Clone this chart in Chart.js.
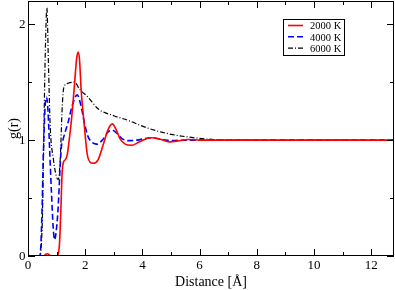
<!DOCTYPE html>
<html>
<head>
    <script src="https://cdn.jsdelivr.net/npm/chart.js@4.4.0/dist/chart.umd.min.js"></script>
    <style>
        body {
            margin: 0;
            background: #fff;
        }
        #wrap {
            width: 395px;
            height: 290px;
        }
    </style>
</head>
<body>
    <div id="wrap"><canvas id="gr" width="395" height="290"></canvas></div>

    <script>
        // values
        const xRed = [0, 0.55, 0.62, 0.68, 0.75, 0.82, 1.0, 1.06, 1.1, 1.15, 1.19, 1.23, 1.3, 1.37, 1.45, 1.51, 1.61, 1.7, 1.75, 1.8, 1.86, 1.96, 2.07, 2.17, 2.28, 2.45, 2.63, 2.8, 2.95, 3.1, 3.22, 3.4, 3.62, 3.9, 4.3, 4.6, 4.95, 5.3, 5.6, 6.0, 12.8];
        const yRed = [0, 0, 0.015, 0.02, 0.01, 0, 0, 0.02, 0.1, 0.4, 0.7, 0.8, 0.83, 0.87, 1.02, 1.15, 1.43, 1.7, 1.76, 1.7, 1.43, 1.15, 0.88, 0.81, 0.8, 0.83, 0.96, 1.09, 1.14, 1.08, 1.01, 0.965, 0.955, 0.985, 1.02, 1.01, 0.985, 0.995, 1.005, 1.0, 1.0];

        const xBlue = [0, 0.42, 0.48, 0.54, 0.6, 0.65, 0.7, 0.76, 0.82, 0.88, 0.93, 0.98, 1.05, 1.12, 1.17, 1.22, 1.3, 1.4, 1.55, 1.72, 1.85, 1.98, 2.1, 2.27, 2.4, 2.6, 2.8, 2.95, 3.1, 3.3, 3.5, 3.8, 4.3, 4.7, 5.0, 5.5, 12.8];
        const yBlue = [0, 0, 0.3, 0.9, 1.3, 1.37, 1.25, 0.9, 0.55, 0.25, 0.14, 0.2, 0.4, 0.75, 0.95, 1.0, 1.07, 1.15, 1.3, 1.39, 1.3, 1.14, 1.03, 0.975, 0.965, 1.0, 1.07, 1.085, 1.06, 1.01, 0.995, 1.0, 1.02, 1.005, 0.995, 1.0, 1.0];

        const xBlack = [0, 0.4, 0.5, 0.55, 0.6, 0.66, 0.72, 0.78, 0.88, 1.0, 1.06, 1.12, 1.2, 1.25, 1.4, 1.63, 1.8, 2.1, 2.45, 3.0, 3.5, 4.0, 4.5, 5.0, 5.5, 6.0, 6.5, 7.0, 12.8];
        const yBlack = [0, 0, 0.3, 1.0, 1.7, 2.14, 1.6, 1.1, 0.85, 0.68, 0.66, 0.8, 1.3, 1.45, 1.49, 1.5, 1.44, 1.37, 1.27, 1.21, 1.17, 1.12, 1.08, 1.05, 1.03, 1.015, 1.005, 1.0, 1.0];

        const seriesNames = ['2000 K', '4000 K', '6000 K'];
        const xTickLabels = [0, 2, 4, 6, 8, 10, 12];
        const yTickLabels = [0, 1, 2];
        const xTitle = 'Distance [\u00c5]';
        const yTitle = 'g(r)';

        function pts(xs, ys) {
            return xs.map((x, i) => ({ x: x, y: ys[i] }));
        }

        const serif = '"Liberation Serif", "DejaVu Serif", serif';

        const frame = {
            id: 'frame',
            afterDraw(c) {
                const ctx = c.ctx;
                const a = c.chartArea;
                const sx = c.scales.x;
                const sy = c.scales.y;
                ctx.save();
                ctx.strokeStyle = '#000';
                ctx.lineWidth = 1;
                ctx.strokeRect(a.left + 0.5, a.top + 0.5, a.right - a.left - 1, a.bottom - a.top - 1);

                // inward ticks
                ctx.beginPath();
                for (let v = 0; v <= 12; v++) {
                    const len = v % 2 === 0 ? 7 : 4;
                    const px = Math.round(sx.getPixelForValue(v)) + 0.5;
                    ctx.moveTo(px, a.bottom);
                    ctx.lineTo(px, a.bottom - len);
                    ctx.moveTo(px, a.top);
                    ctx.lineTo(px, a.top + len);
                }
                for (let v = 0; v <= 2; v += 0.5) {
                    const len = v % 1 === 0 ? 7 : 4;
                    const py = Math.round(sy.getPixelForValue(v)) + 0.5;
                    ctx.moveTo(a.left, py);
                    ctx.lineTo(a.left + len, py);
                    ctx.moveTo(a.right, py);
                    ctx.lineTo(a.right - len, py);
                }
                ctx.stroke();

                // tick labels
                ctx.fillStyle = '#000';
                ctx.font = '13px ' + serif;
                ctx.textAlign = 'center';
                ctx.textBaseline = 'alphabetic';
                xTickLabels.forEach(v => {
                    ctx.fillText(String(v), sx.getPixelForValue(v), 269);
                });
                ctx.textAlign = 'right';
                yTickLabels.forEach(v => {
                    ctx.fillText(String(v), 25.5, sy.getPixelForValue(v) + 4.3);
                });

                // axis titles
                ctx.font = '14px ' + serif;
                ctx.textAlign = 'center';
                ctx.fillText(xTitle, (a.left + a.right) / 2, 286);
                ctx.save();
                ctx.translate(14, (a.top + a.bottom) / 2);
                ctx.rotate(-Math.PI / 2);
                ctx.textBaseline = 'middle';
                ctx.fillText(yTitle, 0, 0);
                ctx.restore();

                // legend box
                ctx.fillStyle = '#fff';
                ctx.fillRect(283, 19, 61, 36);
                ctx.strokeRect(283.5, 19.5, 61, 36);
                ctx.font = '10.5px ' + serif;
                ctx.textAlign = 'left';
                ctx.fillStyle = '#000';
                c.data.datasets.forEach((ds, i) => {
                    const y = 25.5 + i * 11.3;
                    ctx.save();
                    ctx.strokeStyle = ds.borderColor;
                    ctx.lineWidth = ds.borderWidth;
                    ctx.setLineDash(ds.borderDash || []);
                    ctx.beginPath();
                    ctx.moveTo(288, y);
                    ctx.lineTo(303, y);
                    ctx.stroke();
                    ctx.restore();
                    ctx.fillText(ds.label, 310, y + 3.7);
                });
                ctx.restore();
            }
        };

        const ctx = document.getElementById('gr').getContext('2d');
        new Chart(ctx, {
            type: 'line',
            data: {
                datasets: [{
                    label: seriesNames[0],
                    data: pts(xRed, yRed),
                    borderColor: '#ff0000',
                    borderWidth: 1.6
                }, {
                    label: seriesNames[1],
                    data: pts(xBlue, yBlue),
                    borderColor: '#0000ff',
                    borderWidth: 1.6,
                    borderDash: [6, 3]
                }, {
                    label: seriesNames[2],
                    data: pts(xBlack, yBlack),
                    borderColor: '#000000',
                    borderWidth: 1.2,
                    borderDash: [5, 2, 1, 2]
                }]
            },
            options: {
                responsive: false,
                animation: false,
                cubicInterpolationMode: 'monotone',
                elements: {
                    point: { radius: 0 },
                    line: { fill: false, cubicInterpolationMode: 'monotone' }
                },
                layout: {
                    padding: { left: 28, right: 1, top: 1, bottom: 34 }
                },
                plugins: {
                    legend: { display: false },
                    tooltip: { enabled: false }
                },
                scales: {
                    x: { type: 'linear', min: 0, max: 12.8, display: false },
                    y: { type: 'linear', min: 0, max: 2.2, display: false }
                }
            },
            plugins: [frame]
        });
    </script>
</body>
</html>
